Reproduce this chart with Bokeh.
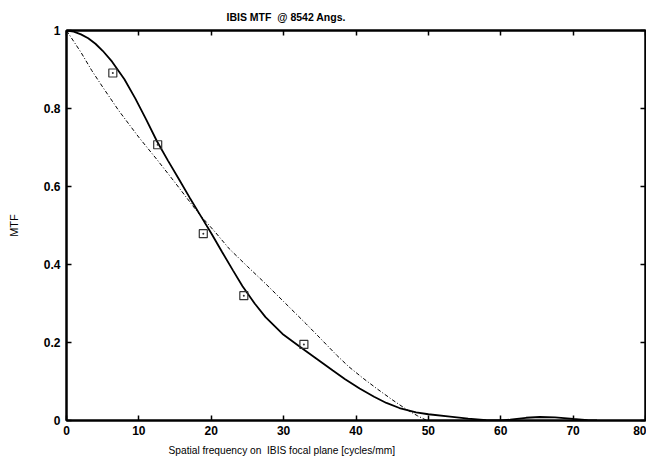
from bokeh.plotting import figure
from bokeh.models import LinearAxis, FixedTicker, Range1d, Title
from bokeh.embed import file_html
from bokeh.resources import INLINE

# Measured MTF (solid curve)
solid_x = [0, 1, 2, 3, 4, 5, 6.3, 8, 9.5, 11, 12.5, 14, 15.5, 17, 18.5, 20, 21.5, 23,
           24.3, 26, 27.5, 29.85, 32.2, 34.5, 36.8, 38.5, 40.5, 42.5, 44.2, 46, 48.3,
           50, 53, 55.5, 58, 60, 61.3, 63.5, 65.4, 67.5, 70, 72, 73.3]
solid_y = [1.0, 0.997, 0.99, 0.98, 0.966, 0.948, 0.92, 0.875, 0.826, 0.772, 0.716,
           0.667, 0.62, 0.572, 0.526, 0.48, 0.432, 0.385, 0.345, 0.3, 0.265, 0.222,
           0.19, 0.159, 0.128, 0.106, 0.082, 0.061, 0.045, 0.032, 0.021, 0.016, 0.01,
           0.005, 0.001, 0.0, 0.002, 0.007, 0.009, 0.008, 0.004, 0.001, 0.0]

# Diffraction-limited MTF (dash-dot curve)
dash_x = [0, 2, 3.5, 5, 7.2, 10, 12.5, 15, 18.3, 20.5, 22.5, 25, 27.55, 30, 33.1, 35,
          37.3, 39, 41, 43, 45.1, 47, 48.5, 49.8]
dash_y = [1.0, 0.944, 0.897, 0.855, 0.795, 0.726, 0.669, 0.61, 0.53, 0.484, 0.44,
          0.395, 0.35, 0.305, 0.248, 0.212, 0.168, 0.138, 0.108, 0.08, 0.052, 0.028,
          0.012, 0.0]

# Data points (squares)
pts_x = [6.4, 12.6, 18.9, 24.5, 32.8]
pts_y = [0.891, 0.707, 0.479, 0.32, 0.195]

x_ticks = [0, 10, 20, 30, 40, 50, 60, 70, 80]
y_ticks = [0, 0.2, 0.4, 0.6, 0.8, 1]
y_tick_labels = {0: "0", 0.2: "0.2", 0.4: "0.4", 0.6: "0.6", 0.8: "0.8", 1: "1"}

FONT = "Liberation Sans"
NB = "\u00a0"
title_text = "IBIS MTF" + NB + " @ 8542 Angs."
xlabel_text = "Spatial frequency on" + NB + " IBIS focal plane [cycles/mm]"
ylabel_text = "MTF"

p = figure(width=646, height=461, output_backend="svg", toolbar_location=None,
           x_range=Range1d(0, 80), y_range=Range1d(0, 1),
           min_border_left=66, min_border_right=1, min_border_top=30, min_border_bottom=41,
           y_axis_label=ylabel_text)

p.grid.visible = False
p.outline_line_color = "black"
p.outline_line_width = 2
p.background_fill_color = "white"
p.border_fill_color = "white"

for ax in (p.xaxis[0], p.yaxis[0]):
    ax.axis_line_width = 2
    ax.axis_line_color = "black"
    ax.major_tick_in = 5
    ax.major_tick_out = 0
    ax.minor_tick_in = 0
    ax.minor_tick_out = 0
    ax.major_tick_line_width = 1.5
    ax.major_tick_line_color = "black"
    ax.major_label_text_font = FONT
    ax.major_label_text_font_size = "12px"
    ax.major_label_text_font_style = "bold"
    ax.major_label_text_color = "black"
p.xaxis[0].ticker = FixedTicker(ticks=x_ticks)
p.yaxis[0].ticker = FixedTicker(ticks=y_ticks)
p.yaxis[0].major_label_overrides = y_tick_labels
p.xaxis[0].major_label_standoff = 5
p.yaxis[0].major_label_standoff = 6
p.yaxis[0].axis_label_standoff = 21
p.yaxis[0].axis_label_text_font = FONT
p.yaxis[0].axis_label_text_font_size = "11px"
p.yaxis[0].axis_label_text_font_style = "normal"
p.yaxis[0].axis_label_text_color = "black"

# Mirror ticks on top and right
top = LinearAxis(ticker=FixedTicker(ticks=x_ticks), major_tick_in=5, major_tick_out=0,
                 minor_tick_in=0, minor_tick_out=0, major_label_text_font_size="0px",
                 major_label_standoff=0, axis_line_width=2, major_tick_line_width=1.5)
right = LinearAxis(ticker=FixedTicker(ticks=y_ticks), major_tick_in=5, major_tick_out=0,
                   minor_tick_in=0, minor_tick_out=0, major_label_text_font_size="0px",
                   major_label_standoff=0, axis_line_width=2, major_tick_line_width=1.5)
p.add_layout(top, "above")
p.add_layout(right, "right")

# Title and x label placed gnuplot-style
p.add_layout(Title(text=title_text, align="left", offset=160, standoff=12,
                   vertical_align="top",
                   text_font=FONT, text_font_size="10.5px", text_font_style="bold",
                   text_color="black"),
             "above")
p.add_layout(Title(text=xlabel_text, align="left", offset=102, standoff=11,
                   text_font=FONT, text_font_size="10.2px", text_font_style="normal",
                   text_color="black"),
             "below")

p.line(dash_x, dash_y, line_color="black", line_width=1, line_dash="4 2 1 2")
p.line(solid_x, solid_y, line_color="black", line_width=1.8)
p.scatter(pts_x, pts_y, marker="square_dot", size=8, line_color="#333333",
          fill_color=None, line_width=1.2)

open("out.html", "w").write(file_html(p, INLINE))
